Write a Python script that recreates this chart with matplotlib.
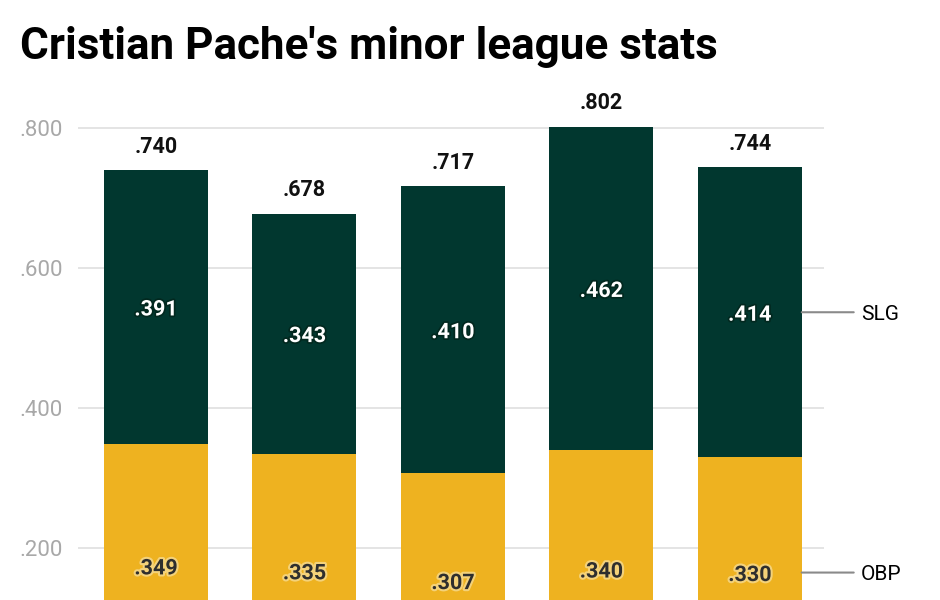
import numpy as np
import matplotlib.pyplot as plt
from matplotlib import patheffects as pe

plt.rcParams['font.family'] = ['Roboto', 'DejaVu Sans']

# datos
obp = [0.349, 0.335, 0.307, 0.340, 0.330]
slg_extra = [0.391, 0.343, 0.410, 0.462, 0.414]
ops = [0.740, 0.678, 0.717, 0.802, 0.744]

green = "#01372f"
yellow = "#eeb220"

fig = plt.figure(figsize=(9.4, 6), dpi=100)
# the bottom of the axes runs past the picture, as in the original crop
ax = fig.add_axes([78 / 940, -0.1467, (824 - 78) / 940, 0.9447])

x = np.arange(len(obp))
w = 0.70
ax.bar(x, obp, w, color=yellow, zorder=2)
ax.bar(x, slg_extra, w, bottom=obp, color=green, zorder=2)

ax.set_xlim(-0.525, 4.5)
ax.set_ylim(0, 0.81)
ax.set_yticks([0.2, 0.4, 0.6, 0.8])
ax.set_yticklabels([".200", ".400", ".600", ".800"])
ax.tick_params(axis="y", length=0, pad=11, labelsize=16, labelcolor="#a8a8a8")
ax.tick_params(axis="x", length=0, labelbottom=False)
ax.grid(axis="y", color="#e2e2e2", linewidth=1.3, zorder=0)
for s in ax.spines.values():
    s.set_visible(False)

def fmt(v):
    return f"{v:.3f}"[1:]

glow = [pe.withStroke(linewidth=3, foreground="#f4d27a")]
shadow = [pe.withStroke(linewidth=2.5, foreground="#02281f")]
for i in range(len(obp)):
    ax.text(x[i], obp[i] / 2, fmt(obp[i]), ha="center", va="center_baseline",
            fontsize=15.5, fontweight="bold", color="#2e2e2e", path_effects=glow)
    ax.text(x[i], obp[i] + slg_extra[i] / 2, fmt(slg_extra[i]), ha="center", va="center_baseline",
            fontsize=15.5, fontweight="bold", color="white", path_effects=shadow)
    ax.annotate(fmt(ops[i]), (x[i], ops[i]), xytext=(0, 9), textcoords="offset points",
                ha="center", va="bottom", fontsize=15.5, fontweight="bold", color="#111111",
                annotation_clip=False)

# etiquetas de la derecha
last = len(obp) - 1
for yv, name in [(obp[last] + slg_extra[last] / 2, "SLG"), (obp[last] / 2, "OBP")]:
    ax.annotate(name, (x[last] + w / 2, yv), xytext=(59, 0), textcoords="offset pixels",
                ha="left", va="center_baseline", fontsize=15, color="black",
                annotation_clip=False)
    ax.annotate("", (x[last] + w / 2, yv), xytext=(52, 0), textcoords="offset pixels",
                arrowprops=dict(arrowstyle="-", color="#8a8a8a", lw=1.5, shrinkA=0, shrinkB=0),
                annotation_clip=False)

fig.text(20 / 940, 1 - 47 / 600, "Cristian Pache's minor league stats", ha="left", va="center",
         fontsize=31.7, fontweight="bold", color="black")

fig.savefig("out.png", dpi=100)
